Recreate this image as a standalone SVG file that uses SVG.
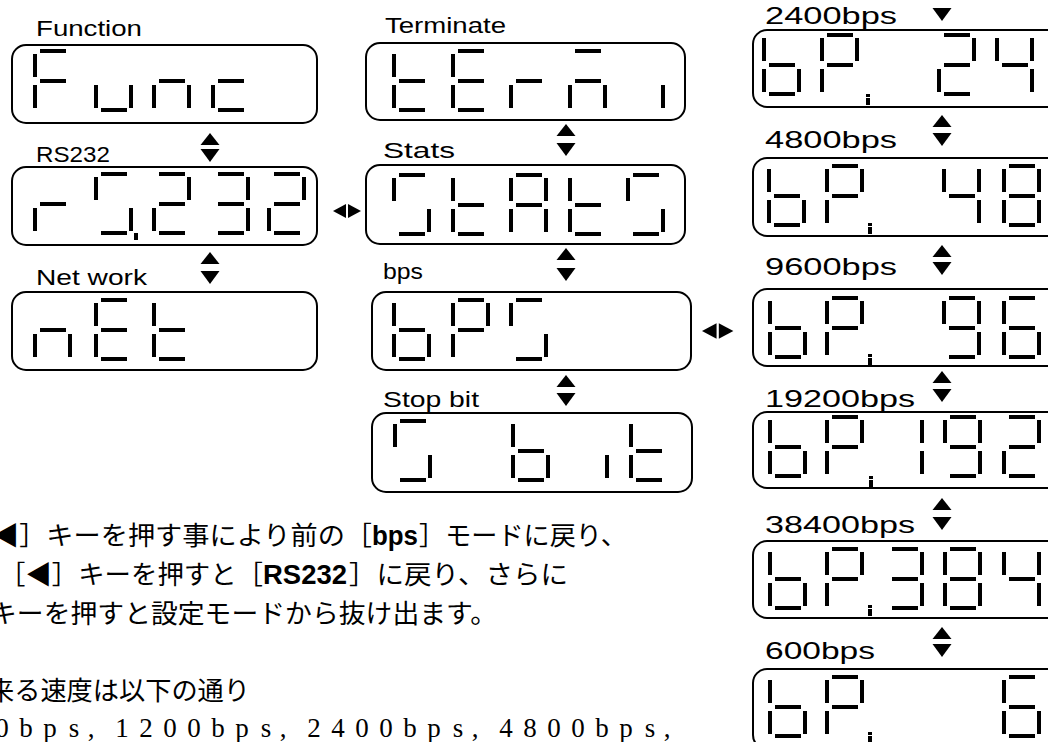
<svg xmlns="http://www.w3.org/2000/svg" width="1048" height="742" viewBox="0 0 1048 742">
<style>
.box{fill:none;stroke:#000;stroke-width:2}
.lb{font-family:"Liberation Sans",Arial,sans-serif;font-size:22px;fill:#000}
.lb3{font-family:"Liberation Sans",Arial,sans-serif;font-size:24px;fill:#000}
.jp{font-family:"Liberation Serif","Noto Sans CJK JP",serif;font-size:26px;fill:#000}
.bs{font-family:"Liberation Sans",Arial,sans-serif;font-size:27px;font-weight:bold;fill:#000}
.num{font-family:"Liberation Serif",serif;font-size:27px;fill:#000}
.arr{fill:#000}
</style>
<defs>
<rect id="sa" x="7" y="0" width="26" height="4"/>
<rect id="sb" x="35" y="5" width="4" height="23"/>
<rect id="sc" x="35" y="36" width="4" height="23"/>
<rect id="sd" x="7" y="59" width="26" height="4"/>
<rect id="se" x="0" y="36" width="4" height="23"/>
<rect id="sf" x="0" y="5" width="4" height="23"/>
<rect id="sg" x="7" y="30" width="26" height="4"/>
<g id="gF"><use href="#sa"/><use href="#sf"/><use href="#sg"/><use href="#se"/></g>
<g id="gu"><use href="#sc"/><use href="#sd"/><use href="#se"/></g>
<g id="gn"><use href="#se"/><use href="#sg"/><use href="#sc"/></g>
<g id="gc"><use href="#sg"/><use href="#se"/><use href="#sd"/></g>
<g id="gr"><use href="#se"/><use href="#sg"/></g>
<g id="gS"><use href="#sa"/><use href="#sf"/><use href="#sc"/><use href="#sd"/></g>
<g id="g2"><use href="#sa"/><use href="#sb"/><use href="#sg"/><use href="#se"/><use href="#sd"/></g>
<g id="g3"><use href="#sa"/><use href="#sb"/><use href="#sg"/><use href="#sc"/><use href="#sd"/></g>
<g id="gE"><use href="#sa"/><use href="#sf"/><use href="#sg"/><use href="#se"/><use href="#sd"/></g>
<g id="gt"><use href="#sf"/><use href="#se"/><use href="#sg"/><use href="#sd"/></g>
<g id="gm"><use href="#sa"/><use href="#se"/><use href="#sg"/><use href="#sc"/></g>
<g id="gi"><use href="#sc"/></g>
<g id="gA"><use href="#sa"/><use href="#sb"/><use href="#sc"/><use href="#se"/><use href="#sf"/><use href="#sg"/></g>
<g id="gb"><use href="#sf"/><use href="#se"/><use href="#sg"/><use href="#sc"/><use href="#sd"/></g>
<g id="gP"><use href="#sa"/><use href="#sb"/><use href="#sf"/><use href="#sg"/><use href="#se"/></g>
<g id="g4"><use href="#sf"/><use href="#sg"/><use href="#sb"/><use href="#sc"/></g>
<g id="g8"><use href="#sa"/><use href="#sb"/><use href="#sc"/><use href="#sd"/><use href="#se"/><use href="#sf"/><use href="#sg"/></g>
<g id="g9"><use href="#sa"/><use href="#sb"/><use href="#sc"/><use href="#sd"/><use href="#sf"/><use href="#sg"/></g>
<g id="g6"><use href="#sa"/><use href="#sf"/><use href="#sg"/><use href="#se"/><use href="#sc"/><use href="#sd"/></g>
<g id="g1"><use href="#sb"/><use href="#sc"/></g>
<g id="dp"><rect x="0" y="0" width="4" height="3"/><rect x="0" y="4" width="4" height="7"/></g>
<path id="tu" d="M0,0 L9.5,12 L-9.5,12 Z"/>
<path id="td" d="M-9.5,0 L9.5,0 L0,13 Z"/>
<path id="tl" d="M0,0 L13,-7 L13,7 Z"/>
<path id="tr" d="M0,-7 L13,0 L0,7 Z"/>
</defs>

<g id="function">
<text class="lb" x="36" y="36" textLength="106" lengthAdjust="spacingAndGlyphs">Function</text>
<rect class="box" x="12" y="45" width="305" height="78" rx="14"/>
<use href="#gF" x="33" y="49"/><use href="#gu" x="94" y="49"/><use href="#gn" x="152" y="49"/><use href="#gc" x="211" y="49"/>
</g>
<g id="rs232">
<text class="lb" x="36" y="162" textLength="74" lengthAdjust="spacingAndGlyphs">RS232</text>
<rect class="box" x="12" y="167" width="305" height="78" rx="14"/>
<use href="#gr" x="33" y="172"/><use href="#gS" x="94" y="172"/><rect x="134" y="233" width="4" height="7"/><use href="#g2" x="152" y="172"/><use href="#g3" x="211" y="172"/><use href="#g2" x="267" y="172"/>
</g>
<g id="network">
<text class="lb" x="36" y="285" textLength="111" lengthAdjust="spacingAndGlyphs">Net work</text>
<rect class="box" x="12" y="292" width="305" height="78" rx="14"/>
<use href="#gn" x="33" y="298"/><use href="#gE" x="94" y="298"/><use href="#gt" x="152" y="298"/>
</g>

<g id="terminate">
<text class="lb" x="385" y="33" textLength="121" lengthAdjust="spacingAndGlyphs">Terminate</text>
<rect class="box" x="366" y="43" width="319" height="77" rx="14"/>
<use href="#gt" x="392" y="49"/><use href="#gE" x="451" y="49"/><use href="#gr" x="509" y="49"/><use href="#gm" x="568" y="49"/><use href="#gi" x="626" y="49"/>
</g>
<g id="stats">
<text class="lb" x="383" y="158" textLength="72" lengthAdjust="spacingAndGlyphs">Stats</text>
<rect class="box" x="366" y="165" width="319" height="79" rx="14"/>
<use href="#gS" x="392" y="173"/><use href="#gt" x="451" y="173"/><use href="#gA" x="509" y="173"/><use href="#gt" x="568" y="173"/><use href="#gS" x="626" y="173"/>
</g>
<g id="bps">
<text class="lb" x="383" y="279" textLength="40" lengthAdjust="spacingAndGlyphs">bps</text>
<rect class="box" x="372" y="292" width="319" height="78" rx="14"/>
<use href="#gb" x="392" y="298"/><use href="#gP" x="451" y="298"/><use href="#gS" x="509" y="298"/>
</g>
<g id="stopbit">
<text class="lb" x="383" y="407" textLength="96" lengthAdjust="spacingAndGlyphs">Stop bit</text>
<rect class="box" x="372" y="413" width="320" height="79" rx="14"/>
<use href="#gS" x="393" y="419"/><use href="#gb" x="511" y="419"/><use href="#gi" x="570" y="419"/><use href="#gt" x="629" y="419"/>
</g>

<g id="bps2400">
<text class="lb3" x="765" y="24" textLength="132" lengthAdjust="spacingAndGlyphs">2400bps</text>
<rect class="box" x="753" y="30" width="330" height="77" rx="14"/>
<use href="#gb" x="762" y="33"/><use href="#gP" x="820" y="33"/><use href="#dp" x="866" y="94"/><use href="#g2" x="937" y="33"/><use href="#g4" x="995" y="33"/>
</g>
<g id="bps4800">
<text class="lb3" x="765" y="148" textLength="132" lengthAdjust="spacingAndGlyphs">4800bps</text>
<rect class="box" x="753" y="158" width="330" height="78" rx="14"/>
<use href="#gb" x="767" y="164"/><use href="#gP" x="825" y="164"/><use href="#dp" x="868" y="223"/><use href="#g4" x="942" y="164"/><use href="#g8" x="1002" y="164"/>
</g>
<g id="bps9600">
<text class="lb3" x="765" y="275" textLength="132" lengthAdjust="spacingAndGlyphs">9600bps</text>
<rect class="box" x="753" y="289" width="330" height="77" rx="14"/>
<use href="#gb" x="768" y="296"/><use href="#gP" x="825" y="296"/><use href="#dp" x="868" y="354"/><use href="#g9" x="942" y="296"/><use href="#g6" x="1002" y="296"/>
</g>
<g id="bps19200">
<text class="lb3" x="765" y="407" textLength="150" lengthAdjust="spacingAndGlyphs">19200bps</text>
<rect class="box" x="753" y="412" width="330" height="76" rx="14"/>
<use href="#gb" x="768" y="415"/><use href="#gP" x="825" y="415"/><use href="#dp" x="869" y="476"/><use href="#g1" x="885" y="415"/><use href="#g9" x="943" y="415"/><use href="#g2" x="1002" y="415"/>
</g>
<g id="bps38400">
<text class="lb3" x="765" y="533" textLength="150" lengthAdjust="spacingAndGlyphs">38400bps</text>
<rect class="box" x="753" y="541" width="330" height="77" rx="14"/>
<use href="#gb" x="768" y="547"/><use href="#gP" x="825" y="547"/><use href="#dp" x="868" y="605"/><use href="#g3" x="885" y="547"/><use href="#g8" x="943" y="547"/><use href="#g4" x="1002" y="547"/>
</g>
<g id="bps600">
<text class="lb3" x="765" y="659" textLength="110" lengthAdjust="spacingAndGlyphs">600bps</text>
<rect class="box" x="753" y="669" width="330" height="80" rx="14"/>
<use href="#gb" x="768" y="675"/><use href="#gP" x="825" y="675"/><use href="#dp" x="868" y="732"/><use href="#g6" x="1002" y="675"/>
</g>

<g id="connectors" class="arr">
<use href="#tu" x="210" y="133"/><use href="#td" x="210" y="149"/>
<use href="#tu" x="210" y="252"/><use href="#td" x="210" y="271"/>
<use href="#tu" x="566" y="124"/><use href="#td" x="566" y="143"/>
<use href="#tu" x="566" y="248"/><use href="#td" x="566" y="268"/>
<use href="#tu" x="566" y="375"/><use href="#td" x="566" y="393"/>
<use href="#td" x="942" y="8"/>
<use href="#tu" x="942" y="115"/><use href="#td" x="942" y="133"/>
<use href="#tu" x="942" y="245"/><use href="#td" x="942" y="262"/>
<use href="#tu" x="942" y="371"/><use href="#td" x="942" y="389"/>
<use href="#tu" x="942" y="498"/><use href="#td" x="942" y="517"/>
<use href="#tu" x="942" y="627"/><use href="#td" x="942" y="644"/>
<use href="#tl" x="333" y="211"/><use href="#tr" x="348" y="211"/>
<g transform="translate(702,331) scale(1.12)"><use href="#tl"/><use href="#tr" x="15"/></g>
</g>

<g id="notes">
<text class="jp" x="-8" y="545" textLength="380" lengthAdjust="spacingAndGlyphs">◀］キーを押す事により前の［</text>
<text class="bs" x="372" y="545" textLength="46" lengthAdjust="spacingAndGlyphs">bps</text>
<text class="jp" x="419" y="545" textLength="208" lengthAdjust="spacingAndGlyphs">］モードに戻り、</text>
<text class="jp" x="-1" y="584" textLength="264" lengthAdjust="spacingAndGlyphs">［◀］キーを押すと［</text>
<text class="bs" x="263" y="584" textLength="84" lengthAdjust="spacingAndGlyphs">RS232</text>
<text class="jp" x="349" y="584" textLength="219" lengthAdjust="spacingAndGlyphs">］に戻り、さらに</text>
<text class="jp" x="-10" y="623" textLength="507" lengthAdjust="spacingAndGlyphs">キーを押すと設定モードから抜け出ます。</text>
<text class="jp" x="-12" y="700" textLength="262" lengthAdjust="spacingAndGlyphs">来る速度は以下の通り</text>
<text class="num" text-anchor="middle" y="737" x="2 26 50 74 91 122 146 170 194 218 242 266 283 314 338 362 386 410 434 458 475 506 530 554 578 602 626 650 667">0bps,1200bps,2400bps,4800bps,</text>
</g>
</svg>
